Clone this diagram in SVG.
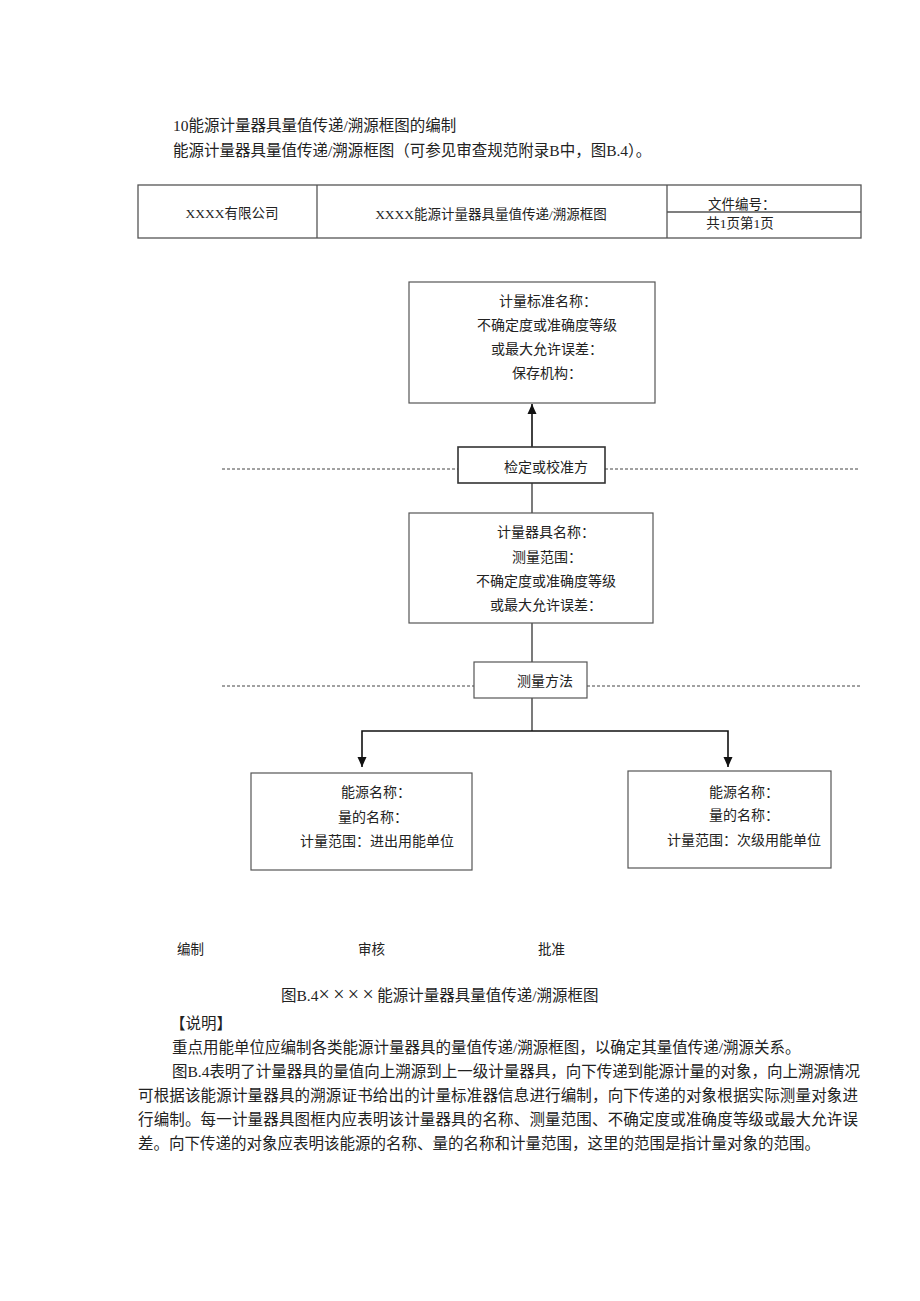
<svg xmlns="http://www.w3.org/2000/svg" width="920" height="1301" viewBox="0 0 920 1301">
<defs>
<style>
text{font-family:"Liberation Serif","Noto Sans CJK SC",serif;fill:#222;}
.h{font-size:15.5px;}
.t{font-size:13.5px;}
.n{font-size:14px;}
.s{font-size:13.5px;}
.b{font-size:15.5px;}
.box{fill:#fff;stroke:#555;stroke-width:1.2;}
.tbl{fill:none;stroke:#555;stroke-width:1.3;}
.dash{stroke:#444;stroke-width:1;stroke-dasharray:3 2;fill:none;}
.con{stroke:#111;stroke-width:1.6;fill:none;}
.thin{stroke:#222;stroke-width:1.2;fill:none;}
</style>
<marker id="ah" viewBox="0 0 10 10" refX="10" refY="5" markerWidth="10" markerHeight="10" markerUnits="userSpaceOnUse" orient="auto">
<path d="M0,0.5 L10,5 L0,9.5 Z" fill="#111"/>
</marker>
</defs>
<rect width="920" height="1301" fill="#fff"/>

<g id="heading">
<text class="h" x="173" y="131">10能源计量器具量值传递/溯源框图的编制</text>
<text class="h" x="173" y="156">能源计量器具量值传递/溯源框图（可参见审查规范附录B中，图B.4）。</text>
</g>

<g id="title-table">
<rect class="tbl" x="138" y="185" width="723" height="53"/>
<line class="tbl" x1="317" y1="185" x2="317" y2="238"/>
<line class="tbl" x1="667" y1="185" x2="667" y2="238"/>
<line class="tbl" x1="667" y1="212" x2="861" y2="212"/>
<text class="t" x="232" y="218" text-anchor="middle">XXXX有限公司</text>
<text class="t" x="491" y="219" text-anchor="middle">XXXX能源计量器具量值传递/溯源框图</text>
<text class="t" x="708" y="209">文件编号：</text>
<text class="t" x="740" y="228" text-anchor="middle">共1页第1页</text>
</g>

<g id="dividers">
<line class="dash" x1="222" y1="469" x2="458" y2="469"/>
<line class="dash" x1="605" y1="469" x2="858" y2="469"/>
<line class="dash" x1="222" y1="686" x2="474" y2="686"/>
<line class="dash" x1="587" y1="686" x2="862" y2="686"/>
</g>

<g id="connectors">
<line class="con" x1="532" y1="447" x2="532" y2="404" marker-end="url(#ah)"/>
<line class="thin" x1="532" y1="483" x2="532" y2="513"/>
<line class="thin" x1="532" y1="623" x2="532" y2="662"/>
<line class="thin" x1="532" y1="698" x2="532" y2="731"/>
<path class="con" d="M532,731 H362 V767" marker-end="url(#ah)"/>
<path class="con" d="M532,731 H728 V767" marker-end="url(#ah)"/>
</g>

<g id="node-standard">
<rect class="box" x="409" y="282" width="246" height="121"/>
<text class="n" x="499" y="306">计量标准名称：</text>
<text class="n" x="477" y="330">不确定度或准确度等级</text>
<text class="n" x="491" y="354">或最大允许误差：</text>
<text class="n" x="512" y="378">保存机构：</text>
</g>

<g id="node-calibration">
<rect class="box" x="458" y="447" width="147" height="36" style="stroke:#333;stroke-width:1.6"/>
<text class="n" x="504" y="472">检定或校准方</text>
</g>

<g id="node-instrument">
<rect class="box" x="409" y="513" width="244" height="110"/>
<text class="n" x="497" y="537">计量器具名称：</text>
<text class="n" x="512" y="562">测量范围：</text>
<text class="n" x="476" y="586">不确定度或准确度等级</text>
<text class="n" x="490" y="610">或最大允许误差：</text>
</g>

<g id="node-method">
<rect class="box" x="474" y="662" width="113" height="36"/>
<text class="n" x="517" y="686">测量方法</text>
</g>

<g id="node-left">
<rect class="box" x="251" y="773" width="221" height="97"/>
<text class="n" x="341" y="797">能源名称：</text>
<text class="n" x="338" y="822">量的名称：</text>
<text class="n" x="300" y="846">计量范围：进出用能单位</text>
</g>

<g id="node-right">
<rect class="box" x="628" y="771" width="203" height="97"/>
<text class="n" x="709" y="797">能源名称：</text>
<text class="n" x="709" y="820">量的名称：</text>
<text class="n" x="667" y="845">计量范围：次级用能单位</text>
</g>

<g id="signatures">
<text class="s" x="177" y="954">编制</text>
<text class="s" x="358" y="954">审核</text>
<text class="s" x="538" y="954">批准</text>
</g>

<g id="caption">
<text class="b" x="281" y="1001">图B.4<tspan style="font-size:20px" letter-spacing="3.4">××××</tspan>能源计量器具量值传递/溯源框图</text>
</g>

<g id="notes">
<text class="b" x="170" y="1029">【说明】</text>
<text class="b" x="172" y="1053">重点用能单位应编制各类能源计量器具的量值传递/溯源框图，以确定其量值传递/溯源关系。</text>
<text class="b" x="172" y="1077" textLength="688" lengthAdjust="spacing">图B.4表明了计量器具的量值向上溯源到上一级计量器具，向下传递到能源计量的对象，向上溯源情况</text>
<text class="b" x="138" y="1101" textLength="720" lengthAdjust="spacing">可根据该能源计量器具的溯源证书给出的计量标准器信息进行编制，向下传递的对象根据实际测量对象进</text>
<text class="b" x="138" y="1125" textLength="720" lengthAdjust="spacing">行编制。每一计量器具图框内应表明该计量器具的名称、测量范围、不确定度或准确度等级或最大允许误</text>
<text class="b" x="138" y="1149">差。向下传递的对象应表明该能源的名称、量的名称和计量范围，这里的范围是指计量对象的范围。</text>
</g>
</svg>
